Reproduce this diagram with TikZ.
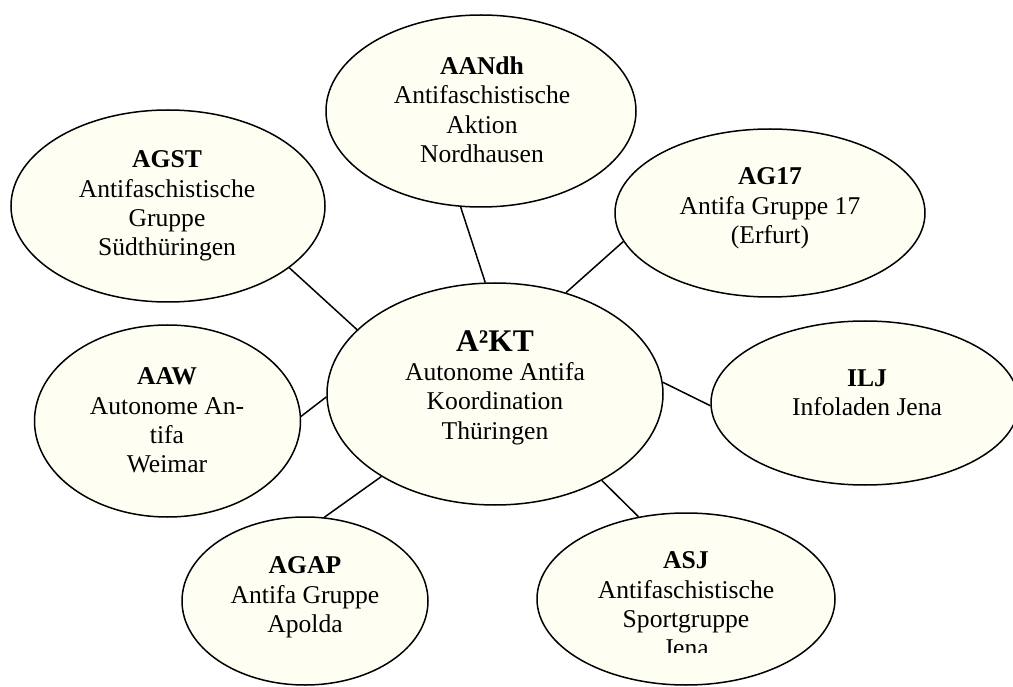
\documentclass[tikz,border=0pt]{standalone}
\usepackage{fontspec}
\setmainfont{Liberation Serif}
\usetikzlibrary{shapes.geometric}
\definecolor{cream}{HTML}{FEFEF3}
\tikzset{
  blob/.style={ellipse, draw=black, line width=1.5pt, fill=cream, inner sep=0pt},
  lbl/.style={anchor=north, align=center, inner sep=0pt, font=\fontsize{25.6}{29.2}\selectfont},
  link/.style={line width=1.5pt, draw=black}
}
\begin{document}
\begin{tikzpicture}[x=1pt,y=-1pt]
\useasboundingbox (0,0) rectangle (1013,687);
% ellipses
\node[blob, minimum width=336pt, minimum height=222pt] (c) at (495,394) {};
\node[blob, minimum width=310pt, minimum height=192pt] (aandh) at (481,111) {};
\node[blob, minimum width=314pt, minimum height=192pt] (agst) at (168,206) {};
\node[blob, minimum width=310pt, minimum height=168pt] (ag17) at (770,213) {};
\node[blob, minimum width=308pt, minimum height=164pt] (ilj) at (865,403) {};
\node[blob, minimum width=266pt, minimum height=192pt] (aaw) at (167.5,421) {};
\node[blob, minimum width=246pt, minimum height=168pt] (agap) at (305,601) {};
\node[blob, minimum width=298pt, minimum height=172pt] (asj) at (686,599) {};
% connectors
\draw[link] (aandh.258.8) -- (c.95.7);
\draw[link] (agst.-27.3) -- (c.155.9);
\draw[link] (ag17.191.9) -- (c.55.5);
\draw[link] (ilj.181.9) -- (c.4.8);
\draw[link] (aaw.2.6) -- (c.181.3);
\draw[link] (agap.77.8) -- (c.216.3);
\draw[link] (asj.120.7) -- (c.-39.3);
% texts
\node[lbl] (ct) at (495,330.5) {{\fontsize{31.5}{31.5}\selectfont\bfseries A²KT}\\Autonome Antifa\\Koordination\\Thüringen};
\node[lbl] (aandht) at (482,56.8) {\textbf{AANdh}\\Antifaschistische\\Aktion\\Nordhausen};
\node[lbl] (agstt) at (167,150.8) {\textbf{AGST}\\Antifaschistische\\Gruppe\\Südthüringen};
\node[lbl] (ag17t) at (770,167.8) {\textbf{AG17}\\Antifa Gruppe 17\\(Erfurt)};
\node[lbl] (iljt) at (867,369.8) {\textbf{ILJ}\\Infoladen Jena};
\node[lbl] (aawt) at (167,367.8) {\textbf{AAW}\\Autonome An-\\tifa\\Weimar};
\node[lbl] (agapt) at (305,556.8) {\textbf{AGAP}\\Antifa Gruppe\\Apolda};
\begin{scope}
  \clip (537,500) rectangle (840,652);
  \node[lbl] (asjt) at (686,551.8) {\textbf{ASJ}\\Antifaschistische\\Sportgruppe\\Jena};
\end{scope}
\end{tikzpicture}
\end{document}
